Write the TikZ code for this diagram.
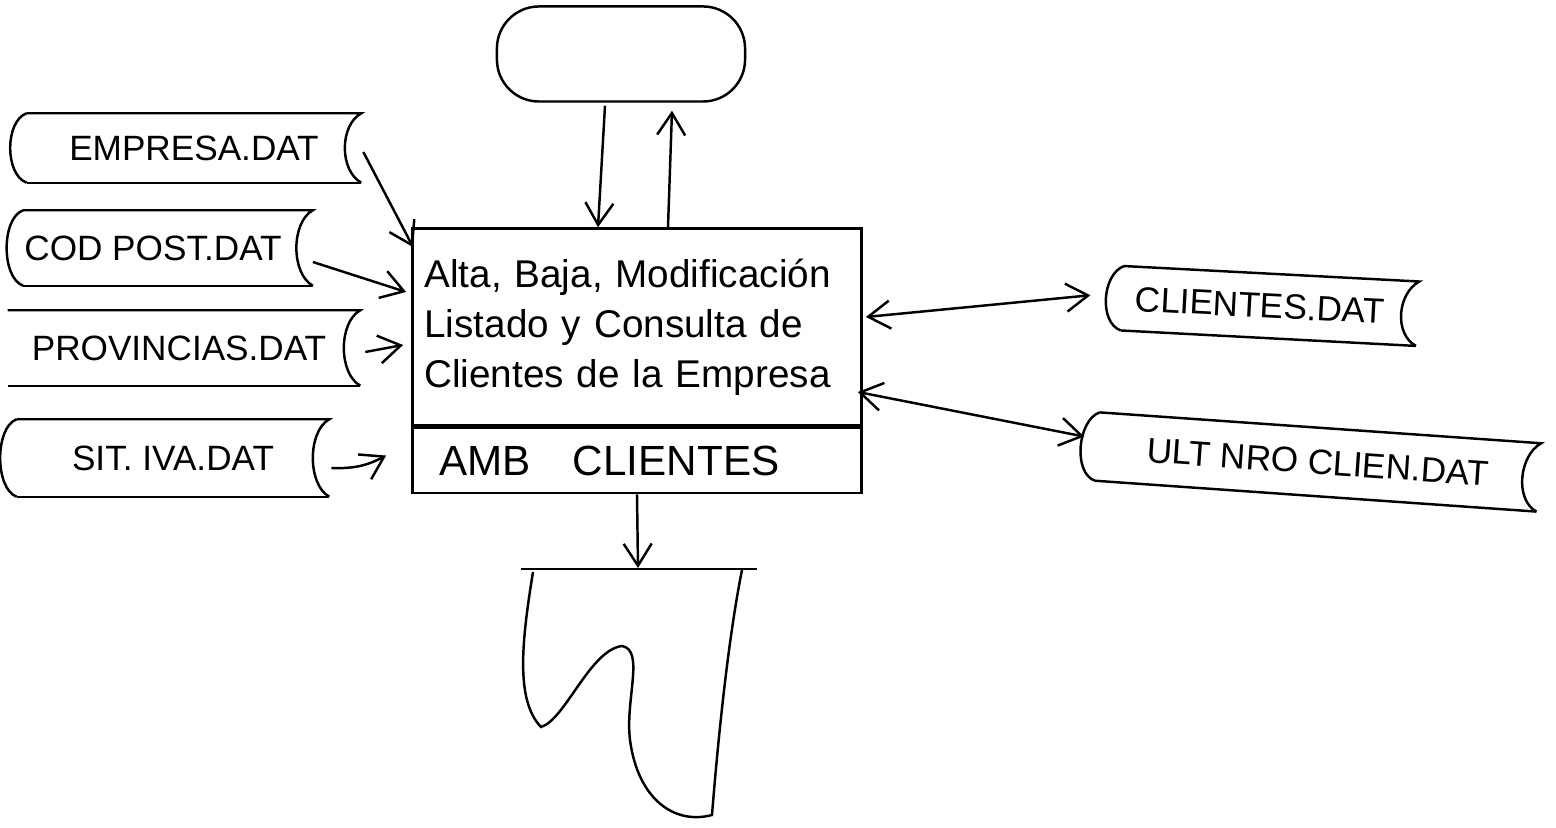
\documentclass[tikz,border=0pt]{standalone}
\usepackage{fontspec}
\setmainfont{Liberation Sans}
\usetikzlibrary{arrows.meta, positioning, calc}

\begin{document}
\begin{tikzpicture}[
    x=0.01cm, y=-0.01cm,
    >={Straight Barb[length=2.2mm, width=2.8mm]},
    line width=0.7pt,
    filebox/.style={inner sep=0pt, font=\fontsize{10}{12}\selectfont},
    procbox/.style={rectangle, draw, inner xsep=0.12cm, inner ysep=0pt, text width=4.25cm, align=left, font=\fontsize{11}{14.2}\selectfont},
    termbox/.style={rectangle, draw, rounded corners=0.42cm, minimum width=2.48cm, minimum height=0.95cm},
    flow/.style={->, line width=0.7pt},
]
    \useasboundingbox (0,0) rectangle (1556,828);

    % external entity and process
    \node[termbox] (term) at (621,54) {};
    \node[procbox, minimum height=1.97cm] (proc) at (637,327) {Alta, Baja, Modificación\\Listado y Consulta de\\Clientes de la Empresa};
    \node[procbox, minimum height=0.65cm, below=0pt of proc, font=\fontsize{12}{14}\selectfont] (amb) {\hspace{0.15cm}AMB\quad CLIENTES};

    % data stores
    \node[filebox, minimum width=3.32cm, minimum height=0.67cm] (emp) at (194,148) {EMPRESA.DAT};
    \node[filebox, minimum width=2.75cm, minimum height=0.73cm] (cod) at (168,248) {COD POST.DAT\kern0.3cm};
    \node[filebox, minimum width=3.50cm, minimum height=0.73cm] (prov) at (184,348) {PROVINCIAS.DAT\kern0.1cm};
    \node[filebox, minimum width=3.10cm, minimum height=0.75cm] (iva) at (173,458) {SIT. IVA.DAT};
    \node[filebox, minimum width=2.93cm, minimum height=0.62cm, rotate=-3] (cli) at (1270,306) {CLIENTES.DAT\kern0.2cm};
    \node[filebox, minimum width=4.40cm, minimum height=0.66cm, rotate=-4] (ult) at (1318,462) {ULT NRO CLIEN.DAT};

    \foreach \f in {emp,cod,prov,iva,cli,ult}{
        \draw (\f.north west) -- (\f.north east) .. controls +(-22,12) and +(-22,-12) .. (\f.south east);
        \draw (\f.south west) -- (\f.south east);
    }
    \foreach \f in {emp,cod,iva,cli,ult}
        \draw (\f.north west) .. controls +(-22,8) and +(-22,-8) .. (\f.south west);

    % output document
    \coordinate (doctop) at (638,568);
    \draw (521,569) -- (757,569);
    \draw (533,572) .. controls (522,640) and (515,700) .. (541,727)
        .. controls (565,720) and (590,650) .. (622,646)
        .. controls (645,650) and (625,700) .. (630,740)
        .. controls (638,800) and (675,825) .. (712,815)
        .. controls (718,740) and (728,640) .. (742,570);

    % flows
    \draw[flow] ($(term.south)+(-16,3)$) -- ($(proc.north)+(-39,0)$);
    \draw[flow] ($(proc.north)+(31,0)$) -- ($(term.south)+(51,8)$);
    \draw[flow] ($(emp.east)+(2,4)$) -- ($(proc.north west)+(2,20)$);
    \draw[flow] ($(cod.east)+(0,14)$) -- ($(proc.west)+(-5,-35)$);
    \draw[flow] ($(prov.east)+(5,4)$) -- ($(proc.west)+(-8,18)$);
    \draw[flow] ($(iva.east)+(2,10)$) to[bend right=15] ($(amb.west)+(-25,-5)$);
    \draw[<->] ($(proc.east)+(3,-10)$) -- ($(cli.west)+(-32,-3)$);
    \draw[<->] ($(proc.east)+(-5,65)$) -- ($(ult.west)+(-13,-10)$);
    \draw[flow] (amb.south) -- (doctop);
\end{tikzpicture}
\end{document}
